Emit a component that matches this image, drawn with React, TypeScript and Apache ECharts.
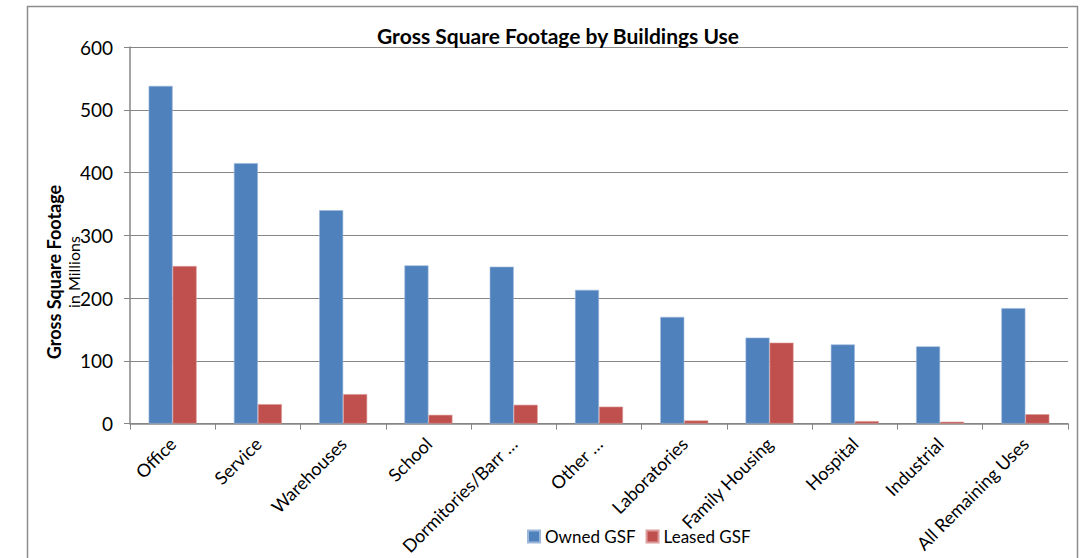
import React, { useEffect, useRef } from "react";
import * as echarts from "echarts";

const categories = [
  "Office",
  "Service",
  "Warehouses",
  "School",
  "Dormitories/Barr \u2026",
  "Other \u2026",
  "Laboratories",
  "Family Housing",
  "Hospital",
  "Industrial",
  "All Remaining Uses",
];
const ownedGSF = [538, 415, 340, 252, 250, 213, 170, 137, 126, 123, 184];
const leasedGSF = [251, 31, 47, 14, 30, 27, 5, 129, 4, 3, 15];
const yTicks = { min: 0, max: 600, interval: 100 };

const FONT = "Lato";

export default function App() {
  const ref = useRef<HTMLDivElement>(null);
  useEffect(() => {
    if (!ref.current) return;
    const chart = echarts.init(ref.current, null, { renderer: "svg" });
    chart.setOption({
      animation: false,
      textStyle: { fontFamily: FONT },
      title: {
        text: "Gross Square Footage by Buildings Use",
        left: 553,
        textAlign: "center",
        top: 20,
        textStyle: { fontFamily: FONT, fontSize: 21, fontWeight: "bold", color: "#000" },
      },
      legend: {
        bottom: 8,
        left: 522,
        itemWidth: 12,
        itemHeight: 12,
        itemGap: 10,
        icon: "rect",
        textStyle: { fontFamily: FONT, fontSize: 17, color: "#000" },
        data: ["Owned GSF", "Leased GSF"],
      },
      grid: { left: 130, right: 23, top: 47, bottom: 134, containLabel: false },
      xAxis: {
        type: "category",
        data: categories,
        boundaryGap: true,
        axisLine: { lineStyle: { color: "#868686", width: 1.5 } },
        axisTick: { show: true, alignWithLabel: false, length: 6, lineStyle: { color: "#868686" } },
        axisLabel: {
          rotate: 45,
          interval: 0,
          fontFamily: FONT,
          fontSize: 18,
          color: "#000",
          margin: 17,
        },
      },
      yAxis: {
        type: "value",
        min: yTicks.min,
        max: yTicks.max,
        interval: yTicks.interval,
        axisLine: { show: true, lineStyle: { color: "#868686", width: 1.5 } },
        axisTick: { show: true, length: 6, lineStyle: { color: "#868686" } },
        splitLine: { show: true, lineStyle: { color: "#868686", width: 1 } },
        axisLabel: { fontFamily: FONT, fontSize: 19, color: "#000", margin: 17 },
      },
      series: [
        {
          name: "Owned GSF",
          type: "bar",
          data: ownedGSF,
          barWidth: 24,
          barGap: "0%",
          itemStyle: { color: "#4F81BD", borderColor: "#9DB7DA", borderWidth: 0.6 },
        },
        {
          name: "Leased GSF",
          type: "bar",
          data: leasedGSF,
          barWidth: 24,
          barGap: "0%",
          itemStyle: { color: "#C0504D", borderColor: "#DC9C9A", borderWidth: 0.6 },
        },
      ],
      graphic: [
        {
          type: "rect",
          shape: { x: 27.5, y: 6.5, width: 1050, height: 620 },
          style: { fill: "none", stroke: "#8C8C8C", lineWidth: 1.5 },
          silent: true,
        },
        {
          type: "text",
          x: 54,
          y: 272,
          rotation: Math.PI / 2,
          style: {
            text: "Gross Square Footage",
            fontFamily: FONT,
            fontSize: 18,
            fontWeight: "bold",
            fill: "#000",
            align: "center",
            verticalAlign: "middle",
          },
        },
        {
          type: "text",
          x: 73,
          y: 272,
          rotation: Math.PI / 2,
          style: {
            text: "in Millions",
            fontFamily: FONT,
            fontSize: 16,
            fill: "#000",
            align: "center",
            verticalAlign: "middle",
          },
        },
      ],
    });
    return () => chart.dispose();
  }, []);
  return (
    <div
      ref={ref}
      style={{ position: "fixed", left: 0, top: 0, width: 1091, height: 558, background: "#fff" }}
    />
  );
}
